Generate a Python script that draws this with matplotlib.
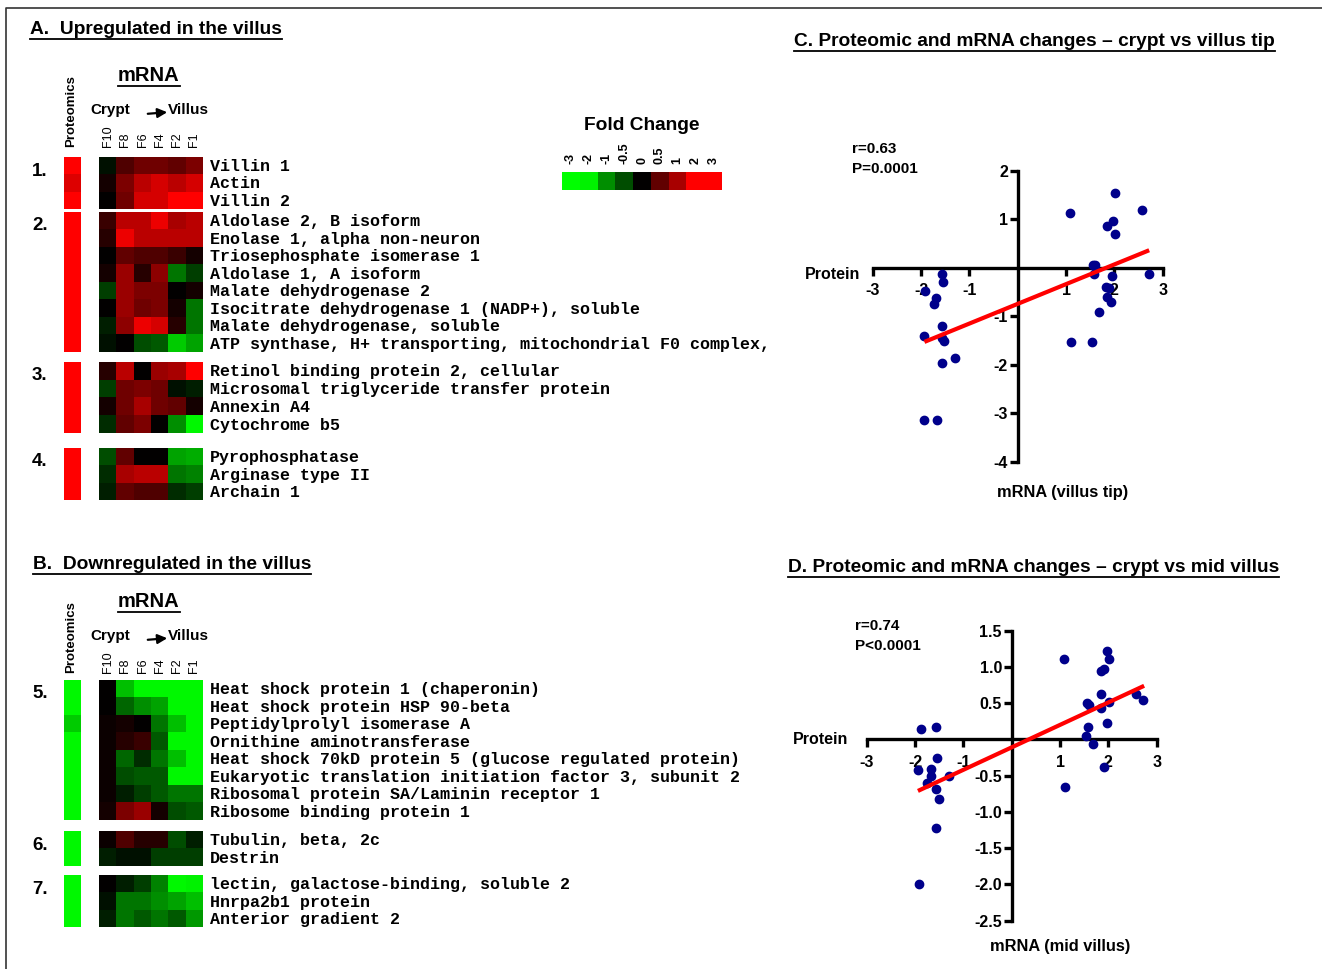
import numpy as np
import matplotlib
matplotlib.use('Agg')
import matplotlib.pyplot as plt
from matplotlib.colors import LinearSegmentedColormap, Normalize
from matplotlib.lines import Line2D
from matplotlib.patches import FancyArrowPatch
from matplotlib.ticker import FormatStrFormatter

plt.rcParams['font.family'] = ['Liberation Sans', 'DejaVu Sans']
plt.rcParams['axes.unicode_minus'] = False

# ---------------- data ----------------
fractions = ['F10', 'F8', 'F6', 'F4', 'F2', 'F1']
fold_ticks = [-3, -2, -1, -0.5, 0, 0.5, 1, 2, 3]

genes_1 = ['Villin 1', 'Actin', 'Villin 2']
mrna_1 = [[-0.1, 0.4, 0.6, 0.6, 0.5, 0.7],
          [0.1, 0.7, 1.2, 1.5, 1.2, 1.5],
          [0.0, 0.6, 1.5, 1.5, 2.0, 2.0]]
prot_1 = [2.5, 1.6, 2.5]

genes_2 = ['Aldolase 2, B isoform', 'Enolase 1, alpha non-neuron',
           'Triosephosphate isomerase 1', 'Aldolase 1, A isoform',
           'Malate dehydrogenase 2', 'Isocitrate dehydrogenase 1 (NADP+), soluble',
           'Malate dehydrogenase, soluble',
           'ATP synthase, H+ transporting, mitochondrial F0 complex,']
mrna_2 = [[0.3, 1.2, 1.2, 1.8, 1.0, 1.2],
          [0.2, 1.8, 1.2, 1.2, 1.2, 1.2],
          [0.0, 0.5, 0.4, 0.4, 0.3, 0.1],
          [0.1, 0.9, 0.2, 0.8, -0.8, -0.4],
          [-0.4, 0.9, 0.7, 0.7, 0.0, 0.1],
          [0.0, 0.9, 0.6, 0.7, 0.1, -0.8],
          [-0.2, 0.8, 1.8, 1.5, 0.2, -0.8],
          [-0.1, 0.0, -0.5, -0.6, -1.6, -1.2]]
prot_2 = [2.5] * 8

genes_3 = ['Retinol binding protein 2, cellular',
           'Microsomal triglyceride transfer protein', 'Annexin A4', 'Cytochrome b5']
mrna_3 = [[0.2, 1.2, 0.0, 0.9, 1.0, 2.0],
          [-0.4, 0.6, 0.7, 0.6, -0.1, -0.2],
          [0.1, 0.6, 1.0, 0.6, 0.5, 0.1],
          [-0.3, 0.5, 0.7, 0.0, -1.0, -2.5]]
prot_3 = [2.5] * 4

genes_4 = ['Pyrophosphatase', 'Arginase type II', 'Archain 1']
mrna_4 = [[-0.5, 0.5, 0.0, 0.0, -1.2, -1.3],
          [-0.3, 1.0, 1.2, 1.2, -0.8, -0.9],
          [-0.2, 0.5, 0.4, 0.4, -0.3, -0.4]]
prot_4 = [2.5] * 3

genes_5 = ['Heat shock protein 1 (chaperonin)', 'Heat shock protein HSP 90-beta',
           'Peptidylprolyl isomerase A', 'Ornithine aminotransferase',
           'Heat shock 70kD protein 5 (glucose regulated protein)',
           'Eukaryotic translation initiation factor 3, subunit 2',
           'Ribosomal protein SA/Laminin receptor 1', 'Ribosome binding protein 1']
mrna_5 = [[0.0, -1.5, -2.5, -2.5, -2.5, -2.5],
          [0.0, -0.7, -1.0, -1.2, -2.5, -2.5],
          [0.05, 0.1, 0.0, -0.8, -1.5, -2.5],
          [0.05, 0.2, 0.3, -0.6, -2.5, -2.5],
          [0.05, -0.7, -0.3, -0.8, -1.5, -2.5],
          [0.05, -0.5, -0.6, -0.6, -2.5, -2.5],
          [0.05, -0.2, -0.4, -0.6, -0.8, -0.8],
          [0.1, 0.7, 0.9, 0.1, -0.5, -0.6]]
prot_5 = [-2.5, -2.5, -1.6, -2.5, -2.5, -2.5, -2.5, -2.5]

genes_6 = ['Tubulin, beta, 2c', 'Destrin']
mrna_6 = [[0.05, 0.4, 0.2, 0.2, -0.5, -0.2],
          [-0.2, -0.1, -0.1, -0.4, -0.4, -0.4]]
prot_6 = [-2.5, -2.5]

genes_7 = ['lectin, galactose-binding, soluble 2', 'Hnrpa2b1 protein',
           'Anterior gradient 2']
mrna_7 = [[0.0, -0.2, -0.4, -0.9, -2.5, -2.0],
          [-0.1, -0.8, -0.8, -1.0, -1.2, -1.5],
          [-0.2, -0.8, -0.6, -0.8, -0.6, -1.1]]
prot_7 = [-2.5] * 3

# C: villus tip
tip_mrna = [-1.56, -1.54, -1.92, -1.69, -1.74, -1.57, -1.93, -1.52, -1.56, -1.30,
            -1.56, -1.93, -1.68, 1.08, 2.01, 2.57, 1.97, 1.85, 2.01, 1.55, 1.59,
            1.57, 1.95, 2.72, 1.82, 1.89, 1.84, 1.92, 1.68, 1.10, 1.54]
tip_prot = [-0.13, -0.30, -0.49, -0.62, -0.75, -1.20, -1.40, -1.51, -1.45, -1.86,
            -1.97, -3.13, -3.14, 1.12, 1.53, 1.18, 0.97, 0.86, 0.69, 0.06, 0.05,
            -0.12, -0.17, -0.14, -0.39, -0.41, -0.60, -0.70, -0.92, -1.53, -1.53]
tip_fit_x = [-1.93, 2.72]
tip_fit_y = [-1.53, 0.36]

# D: mid villus
mid_mrna = [-1.88, -1.57, -1.54, -1.93, -1.68, -1.68, -1.76, -1.29, -1.57, -1.50,
            -1.57, -1.92, 1.08, 1.98, 2.02, 1.85, 1.90, 1.85, 1.55, 1.59, 1.85,
            2.02, 2.57, 2.72, 1.98, 1.57, 1.54, 1.69, 1.91, 1.11]
mid_prot = [0.14, 0.17, -0.25, -0.42, -0.41, -0.51, -0.60, -0.50, -0.69, -0.82,
            -1.22, -1.99, 1.11, 1.22, 1.11, 0.95, 0.97, 0.63, 0.50, 0.47, 0.43,
            0.52, 0.63, 0.54, 0.23, 0.17, 0.05, -0.06, -0.38, -0.66]
mid_fit_x = [-1.94, 2.74]
mid_fit_y = [-0.71, 0.74]

# ---------------- figure ----------------
W, H = 1322, 969
fig = plt.figure(figsize=(W / 100, H / 100), dpi=100)


def fx(px):
    return px / W


def fy(py):
    return 1 - py / H


def add_box(l, t, r, b):
    return fig.add_axes([l / W, 1 - b / H, (r - l) / W, (b - t) / H])


cmap = LinearSegmentedColormap.from_list('fold', [
    (0.0, (0, 1, 0)), (1 / 6, (0, 0.95, 0)), (2 / 6, (0, 0.56, 0)),
    (2.5 / 6, (0, 0.30, 0)), (0.5, (0, 0, 0)), (3.5 / 6, (0.38, 0, 0)),
    (4 / 6, (0.66, 0, 0)), (5 / 6, (1, 0, 0)), (1.0, (1, 0, 0))])
norm = Normalize(-3, 3)

# figure border (left and top)
fig.add_artist(Line2D([fx(6), fx(6), fx(W)], [0, fy(8), fy(8)], color='#333333',
                      lw=1.2, transform=fig.transFigure))

underline_list = []


def title_text(x, y, s, size, ul=True, **kw):
    t = fig.text(fx(x), fy(y), s, fontsize=size, fontweight='bold', va='baseline', **kw)
    if ul:
        underline_list.append(t)
    return t


def heat_group(top, bottom, num, genes, mrna, prot):
    ax = add_box(99, top, 203, bottom)
    ax.imshow(np.array(mrna), cmap=cmap, norm=norm, aspect='auto', interpolation='nearest')
    ax.axis('off')
    axp = add_box(64, top, 81, bottom)
    axp.imshow(np.array(prot).reshape(-1, 1), cmap=cmap, norm=norm, aspect='auto',
               interpolation='nearest')
    axp.axis('off')
    n = len(genes)
    step = (bottom - top) / n
    for i, g in enumerate(genes):
        fig.text(fx(210), fy(top + step * (i + 0.5) + 1), g, fontsize=12,
                 family='Liberation Mono', fontweight='bold', va='center')
    fig.text(fx(32), fy(top + 14), num, fontsize=13.5, fontweight='bold', va='center')


def heat_header(y0):
    # y0 = baseline of "mRNA"
    title_text(118, y0, 'mRNA', 14.5)
    fig.text(fx(71), fy(y0 + 66), 'Proteomics', rotation=90, fontsize=9.5,
             fontweight='bold', ha='center', va='bottom')
    fig.text(fx(90), fy(y0 + 33), 'Crypt', fontsize=11, fontweight='bold')
    fig.text(fx(168), fy(y0 + 33), 'Villus', fontsize=11, fontweight='bold')
    fig.add_artist(FancyArrowPatch((fx(145), fy(y0 + 33)), (fx(170), fy(y0 + 31)),
                                   transform=fig.transFigure, arrowstyle='-|>',
                                   mutation_scale=14, lw=1.6, color='k'))
    for i, f in enumerate(fractions):
        fig.text(fx(108 + 17.3 * i), fy(y0 + 66), f, rotation=90, fontsize=9,
                 ha='center', va='bottom')


# panel A
title_text(30, 34, 'A.  Upregulated in the villus', 13.8)
heat_header(81)
heat_group(157, 209, '1.', genes_1, mrna_1, prot_1)
heat_group(212, 352, '2.', genes_2, mrna_2, prot_2)
heat_group(362, 433, '3.', genes_3, mrna_3, prot_3)
heat_group(448, 500, '4.', genes_4, mrna_4, prot_4)

# panel B
title_text(33, 569, 'B.  Downregulated in the villus', 13.8)
heat_header(607)
heat_group(680, 820, '5.', genes_5, mrna_5, prot_5)
heat_group(831, 866, '6.', genes_6, mrna_6, prot_6)
heat_group(875, 927, '7.', genes_7, mrna_7, prot_7)

# fold change legend
fig.text(fx(642), fy(130), 'Fold Change', fontsize=13.8, fontweight='bold', ha='center',
         va='baseline')
axc = add_box(562, 172, 722, 190)
axc.imshow(np.array(fold_ticks).reshape(1, -1), cmap=cmap, norm=norm, aspect='auto',
           interpolation='nearest')
axc.axis('off')
for i, v in enumerate(fold_ticks):
    fig.text(fx(562 + 17.8 * (i + 0.5)), fy(164), '%g' % v, rotation=90, fontsize=9,
             fontweight='bold', ha='center', va='bottom')


def scatter_panel(box, xs, ys, fit_x, fit_y, ylim, yticks, yfmt, stats, prot_xy, mrna_xy):
    ax = add_box(*box)
    ax.scatter(xs, ys, s=36, color='#00008b', zorder=3, clip_on=False)
    ax.plot(fit_x, fit_y, color='#ff0000', lw=3, zorder=4, solid_capstyle='butt')
    ax.set_xlim(-3, 3)
    ax.set_ylim(*ylim)
    ax.spines['left'].set_position(('data', 0))
    ax.spines['bottom'].set_position(('data', 0))
    ax.spines['top'].set_visible(False)
    ax.spines['right'].set_visible(False)
    for s in ('left', 'bottom'):
        ax.spines[s].set_linewidth(2.4)
    ax.set_xticks([-3, -2, -1, 1, 2, 3])
    ax.set_yticks(yticks)
    ax.yaxis.set_major_formatter(FormatStrFormatter(yfmt))
    ax.tick_params(direction='out', length=6, width=2.4, labelsize=11.5)
    ax.tick_params(axis='x', pad=5)
    ax.tick_params(axis='y', pad=1)
    for lab in ax.get_xticklabels() + ax.get_yticklabels():
        lab.set_fontweight('bold')
    ax.patch.set_alpha(0)
    fig.text(fx(stats[0]), fy(stats[1]), stats[2], fontsize=11, fontweight='bold',
             va='center', linespacing=1.5)
    fig.text(fx(prot_xy[0]), fy(prot_xy[1]), 'Protein', fontsize=11.5, fontweight='bold',
             ha='right', va='center')
    fig.text(fx(mrna_xy[0]), fy(mrna_xy[1]), mrna_xy[2], fontsize=11.8, fontweight='bold',
             ha='center', va='center')


title_text(794, 46, 'C. Proteomic and mRNA changes \u2013 crypt vs villus tip', 13.8)
scatter_panel((872.7, 170.7, 1162.7, 461.7), tip_mrna, tip_prot, tip_fit_x, tip_fit_y,
              (-4, 2), [-4, -3, -2, -1, 1, 2], '%g',
              (852, 159, 'r=0.63\nP=0.0001'), (860, 274), (1063, 493, 'mRNA (villus tip)'))

title_text(788, 572, 'D. Proteomic and mRNA changes \u2013 crypt vs mid villus', 13.8)
scatter_panel((866.7, 630.7, 1156.7, 920.7), mid_mrna, mid_prot, mid_fit_x, mid_fit_y,
              (-2.5, 1.5), [-2.5, -2.0, -1.5, -1.0, -0.5, 0.5, 1.0, 1.5], '%.1f',
              (855, 636, 'r=0.74\nP<0.0001'), (848, 739), (1060, 947, 'mRNA (mid villus)'))

# underlines below the titles
fig.canvas.draw()
renderer = fig.canvas.get_renderer()
for t in underline_list:
    bb = t.get_window_extent(renderer)
    y = bb.y0 - 1
    fig.add_artist(Line2D([bb.x0 / W, bb.x1 / W], [y / H, y / H], color='k', lw=1.3,
                          transform=fig.transFigure))

fig.savefig('out.png', dpi=100)
